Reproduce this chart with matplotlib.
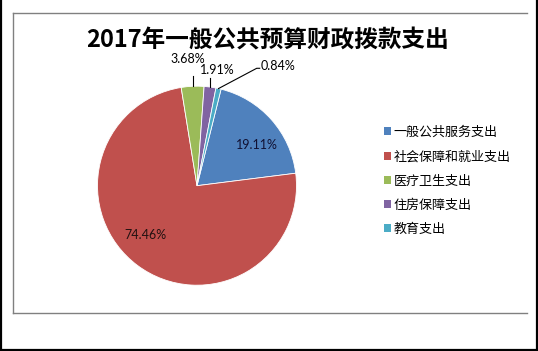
import matplotlib
matplotlib.use("Agg")
import matplotlib.pyplot as plt
import numpy as np
from matplotlib.lines import Line2D

plt.rcParams['font.family'] = ['Noto Sans CJK SC', 'DejaVu Sans']

title = "2017年一般公共预算财政拨款支出"
categories = ["一般公共服务支出", "社会保障和就业支出", "医疗卫生支出", "住房保障支出", "教育支出"]
values = [19.11, 74.46, 3.68, 1.91, 0.84]
colors = ["#4F81BD", "#C0504D", "#9BBB59", "#8064A2", "#4BACC6"]

W, H = 538, 351
fig = plt.figure(figsize=(W / 100, H / 100), dpi=100)
fig.patch.set_facecolor("white")

def fx(px):
    return px / W

def fy(py):
    return 1 - py / H

# outer black border (left, right, bottom) and inner gray frame (left, top, bottom)
fig.add_artist(Line2D([fx(0.8), fx(0.8)], [fy(0), fy(350)], color="black", lw=1.6))
fig.add_artist(Line2D([fx(537.2), fx(537.2)], [fy(0), fy(350)], color="black", lw=1.6))
fig.add_artist(Line2D([fx(0), fx(538)], [fy(350.2), fy(350.2)], color="black", lw=1.6))
fig.add_artist(Line2D([fx(12.5), fx(12.5)], [fy(12.5), fy(313)], color="#808080", lw=1.0))
fig.add_artist(Line2D([fx(12.5), fx(527)], [fy(12.5), fy(12.5)], color="#808080", lw=1.0))
fig.add_artist(Line2D([fx(12.5), fx(527)], [fy(313), fy(313)], color="#808080", lw=1.0))

fig.text(fx(268), fy(40), title, ha="center", va="center", fontsize=17,
         fontweight="bold", color="black", family=['Noto Sans CJK SC', 'DejaVu Sans'])

cx, cy, r = 197.0, 185.7, 99.5
ax = fig.add_axes([fx(cx - r), fy(cy + r), 2 * r / W, 2 * r / H])
ax.axis("off")

wedges, _ = ax.pie(values, colors=colors, startangle=76, counterclock=False,
                   radius=1.0, wedgeprops=dict(linewidth=0.6, edgecolor="white"))
ax.set_xlim(-1, 1)
ax.set_ylim(-1, 1)
ax.set_aspect("equal")

pct_font = dict(family=['Lato', 'DejaVu Sans'], fontsize=9)

# inside labels
inside = {0: (0.60, 0.41, "#111133"), 1: (-0.52, -0.50, "#221111")}
for i, (lx, ly, c) in inside.items():
    ax.text(lx, ly, f"{values[i]:.2f}%", ha="center", va="center", color=c, **pct_font)

# outside labels with leader lines
def mid(w):
    a = np.deg2rad((w.theta1 + w.theta2) / 2)
    return np.cos(a), np.sin(a)

x2, y2 = mid(wedges[2])
ax.plot([x2, x2], [y2, 1.105], color="black", lw=0.8, clip_on=False)
ax.text(-0.093, 1.273, f"{values[2]:.2f}%", ha="center", va="center", **pct_font)

x3, y3 = mid(wedges[3])
ax.plot([x3, x3], [y3, 1.08], color="black", lw=0.8, clip_on=False)
ax.text(0.207, 1.158, f"{values[3]:.2f}%", ha="center", va="center", **pct_font)

x4, y4 = mid(wedges[4])
ax.plot([x4, 0.60, 0.63], [y4, 1.18, 1.18], color="black", lw=0.8, clip_on=False)
ax.text(0.81, 1.203, f"{values[4]:.2f}%", ha="center", va="center", **pct_font)

leg = fig.legend(wedges, categories, loc="upper left",
                 bbox_to_anchor=(fx(384), fy(126)), frameon=False,
                 fontsize=9.4, handlelength=0.55, handleheight=0.55,
                 handletextpad=0.2, labelspacing=0.86, borderpad=0, borderaxespad=0)
for h in leg.legend_handles:
    h.set_edgecolor("none")

fig.savefig("out.png", dpi=100, facecolor="white")
